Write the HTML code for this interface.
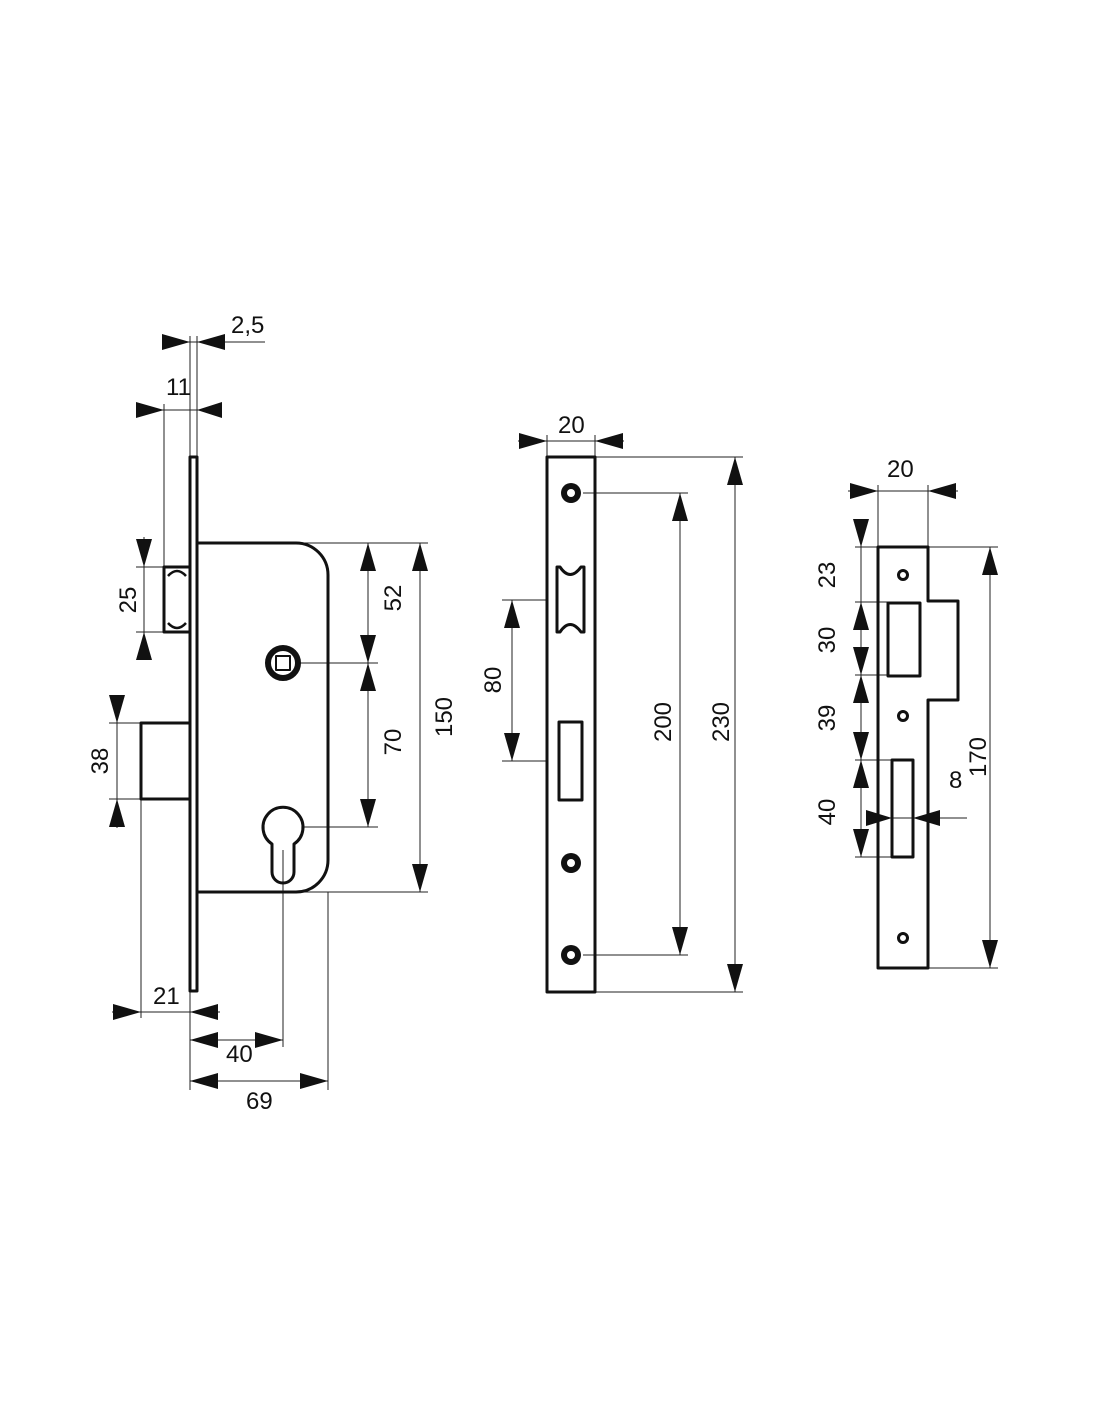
<!DOCTYPE html>
<html><head><meta charset="utf-8"><style>
html,body{margin:0;padding:0;background:#fff}
svg{display:block}
text{font-family:"Liberation Sans",sans-serif;font-size:24px;fill:#111}
</style></head><body>
<svg width="1100" height="1422" viewBox="0 0 1100 1422" xmlns="http://www.w3.org/2000/svg">
<g stroke="#222" stroke-width="1" fill="none">
<line x1="162" y1="342" x2="265" y2="342"/>
<line x1="190" y1="336" x2="190" y2="457"/>
<line x1="197" y1="336" x2="197" y2="457"/>
<line x1="136" y1="410" x2="222" y2="410"/>
<line x1="164" y1="404" x2="164" y2="567"/>
<line x1="144" y1="537" x2="144" y2="660"/>
<line x1="136" y1="567" x2="164" y2="567"/>
<line x1="136" y1="632" x2="164" y2="632"/>
<line x1="117" y1="695" x2="117" y2="828"/>
<line x1="109" y1="723" x2="141" y2="723"/>
<line x1="109" y1="799" x2="141" y2="799"/>
<line x1="300" y1="543" x2="428" y2="543"/>
<line x1="300" y1="663" x2="378" y2="663"/>
<line x1="303" y1="827" x2="378" y2="827"/>
<line x1="197" y1="892" x2="428" y2="892"/>
<line x1="368" y1="543" x2="368" y2="827"/>
<line x1="420" y1="543" x2="420" y2="892"/>
<line x1="141" y1="799" x2="141" y2="1018"/>
<line x1="112" y1="1012" x2="220" y2="1012"/>
<line x1="190" y1="990" x2="190" y2="1090"/>
<line x1="190" y1="1040" x2="283" y2="1040"/>
<line x1="283" y1="850" x2="283" y2="1047"/>
<line x1="190" y1="1081" x2="328" y2="1081"/>
<line x1="328" y1="892" x2="328" y2="1090"/>
<line x1="518" y1="441" x2="624" y2="441"/>
<line x1="547" y1="435" x2="547" y2="457"/>
<line x1="595" y1="435" x2="595" y2="457"/>
<line x1="595" y1="457" x2="743" y2="457"/>
<line x1="595" y1="992" x2="743" y2="992"/>
<line x1="583" y1="493" x2="688" y2="493"/>
<line x1="583" y1="955" x2="688" y2="955"/>
<line x1="680" y1="493" x2="680" y2="955"/>
<line x1="735" y1="457" x2="735" y2="992"/>
<line x1="502" y1="600" x2="547" y2="600"/>
<line x1="502" y1="761" x2="547" y2="761"/>
<line x1="512" y1="600" x2="512" y2="761"/>
<line x1="848" y1="491" x2="958" y2="491"/>
<line x1="878" y1="485" x2="878" y2="547"/>
<line x1="928" y1="485" x2="928" y2="547"/>
<line x1="928" y1="547" x2="998" y2="547"/>
<line x1="928" y1="968" x2="998" y2="968"/>
<line x1="990" y1="547" x2="990" y2="968"/>
<line x1="861" y1="519" x2="861" y2="857"/>
<line x1="855" y1="547" x2="878" y2="547"/>
<line x1="855" y1="602" x2="888" y2="602"/>
<line x1="855" y1="675" x2="888" y2="675"/>
<line x1="855" y1="760" x2="892" y2="760"/>
<line x1="855" y1="857" x2="892" y2="857"/>
<line x1="866" y1="818" x2="967" y2="818"/>
</g>
<g stroke="#111" stroke-width="3" fill="none" stroke-linejoin="round">
<rect x="190" y="457" width="7" height="534"/>
<path d="M197,543 L296,543 A32,32 0 0 1 328,575 L328,860 A32,32 0 0 1 296,892 L197,892"/>
<rect x="164" y="567" width="26" height="65"/>
<path d="M168,576 Q177,566 186,576 M168,623 Q177,633 186,623" stroke-width="2.5"/>
<rect x="141" y="723" width="49" height="76"/>
<circle cx="283" cy="663" r="15" stroke-width="6"/>
<rect x="276" y="656" width="14" height="14" stroke-width="2"/>
<path d="M272,844 A20,20 0 1 1 294,844 L294,872 A11,11 0 0 1 272,872 Z"/>
<rect x="547" y="457" width="48" height="535"/>
<path d="M557,567 L560,567 Q570,582 581,567 L584,567 L584,632 L581,632 Q570,617 560,632 L557,632 Z"/>
<rect x="559" y="722" width="23" height="78"/>
<path d="M878,547 L928,547 L928,601 L958,601 L958,700 L928,700 L928,968 L878,968 Z"/>
<rect x="888" y="603" width="32" height="73"/>
<rect x="892" y="760" width="21" height="97"/>
<circle cx="903" cy="575" r="4.5"/>
<circle cx="903" cy="716" r="4.5"/>
<circle cx="903" cy="938" r="4.5"/>
</g>
<g fill="#111">
<circle cx="571" cy="493" r="10"/><circle cx="571" cy="863" r="10"/><circle cx="571" cy="955" r="10"/>
</g>
<g fill="#fff">
<circle cx="571" cy="493" r="4"/><circle cx="571" cy="863" r="4"/><circle cx="571" cy="955" r="4"/>
</g>
<g fill="#111">
<polygon points="190,342 162,334 162,350"/><polygon points="197,342 225,334 225,350"/>
<polygon points="164,410 136,402 136,418"/><polygon points="197,410 222,402 222,418"/>
<polygon points="144,567 136,539 152,539"/><polygon points="144,632 136,660 152,660"/>
<polygon points="117,723 109,695 125,695"/><polygon points="117,799 109,827 125,827"/>
<polygon points="368,543 360,571 376,571"/><polygon points="368,663 360,635 376,635"/>
<polygon points="368,663 360,691 376,691"/><polygon points="368,827 360,799 376,799"/>
<polygon points="420,543 412,571 428,571"/><polygon points="420,892 412,864 428,864"/>
<polygon points="141,1012 113,1004 113,1020"/><polygon points="190,1012 218,1004 218,1020"/>
<polygon points="190,1040 218,1032 218,1048"/><polygon points="283,1040 255,1032 255,1048"/>
<polygon points="190,1081 218,1073 218,1089"/><polygon points="328,1081 300,1073 300,1089"/>
<polygon points="547,441 519,433 519,449"/><polygon points="595,441 623,433 623,449"/>
<polygon points="680,493 672,521 688,521"/><polygon points="680,955 672,927 688,927"/>
<polygon points="735,457 727,485 743,485"/><polygon points="735,992 727,964 743,964"/>
<polygon points="512,600 504,628 520,628"/><polygon points="512,761 504,733 520,733"/>
<polygon points="878,491 850,483 850,499"/><polygon points="928,491 956,483 956,499"/>
<polygon points="990,547 982,575 998,575"/><polygon points="990,968 982,940 998,940"/>
<polygon points="861,547 853,519 869,519"/>
<polygon points="861,602 853,630 869,630"/>
<polygon points="861,675 853,647 869,647"/><polygon points="861,675 853,703 869,703"/>
<polygon points="861,760 853,732 869,732"/><polygon points="861,760 853,788 869,788"/>
<polygon points="861,857 853,829 869,829"/>
<polygon points="892,818 866,810 866,826"/><polygon points="913,818 940,810 940,826"/>
</g>
<text x="231" y="333">2,5</text>
<text x="166" y="395">11</text>
<text transform="translate(136,600) rotate(-90)" text-anchor="middle">25</text>
<text transform="translate(108,761) rotate(-90)" text-anchor="middle">38</text>
<text transform="translate(401,598) rotate(-90)" text-anchor="middle">52</text>
<text transform="translate(401,742) rotate(-90)" text-anchor="middle">70</text>
<text transform="translate(452,717) rotate(-90)" text-anchor="middle">150</text>
<text x="153" y="1004">21</text>
<text x="226" y="1062">40</text>
<text x="246" y="1109">69</text>
<text x="558" y="433">20</text>
<text transform="translate(501,680) rotate(-90)" text-anchor="middle">80</text>
<text transform="translate(671,722) rotate(-90)" text-anchor="middle">200</text>
<text transform="translate(729,722) rotate(-90)" text-anchor="middle">230</text>
<text x="887" y="477">20</text>
<text transform="translate(835,575) rotate(-90)" text-anchor="middle">23</text>
<text transform="translate(835,640) rotate(-90)" text-anchor="middle">30</text>
<text transform="translate(835,718) rotate(-90)" text-anchor="middle">39</text>
<text transform="translate(835,812) rotate(-90)" text-anchor="middle">40</text>
<text transform="translate(986,757) rotate(-90)" text-anchor="middle">170</text>
<text x="949" y="788">8</text>
</svg>
</body></html>
